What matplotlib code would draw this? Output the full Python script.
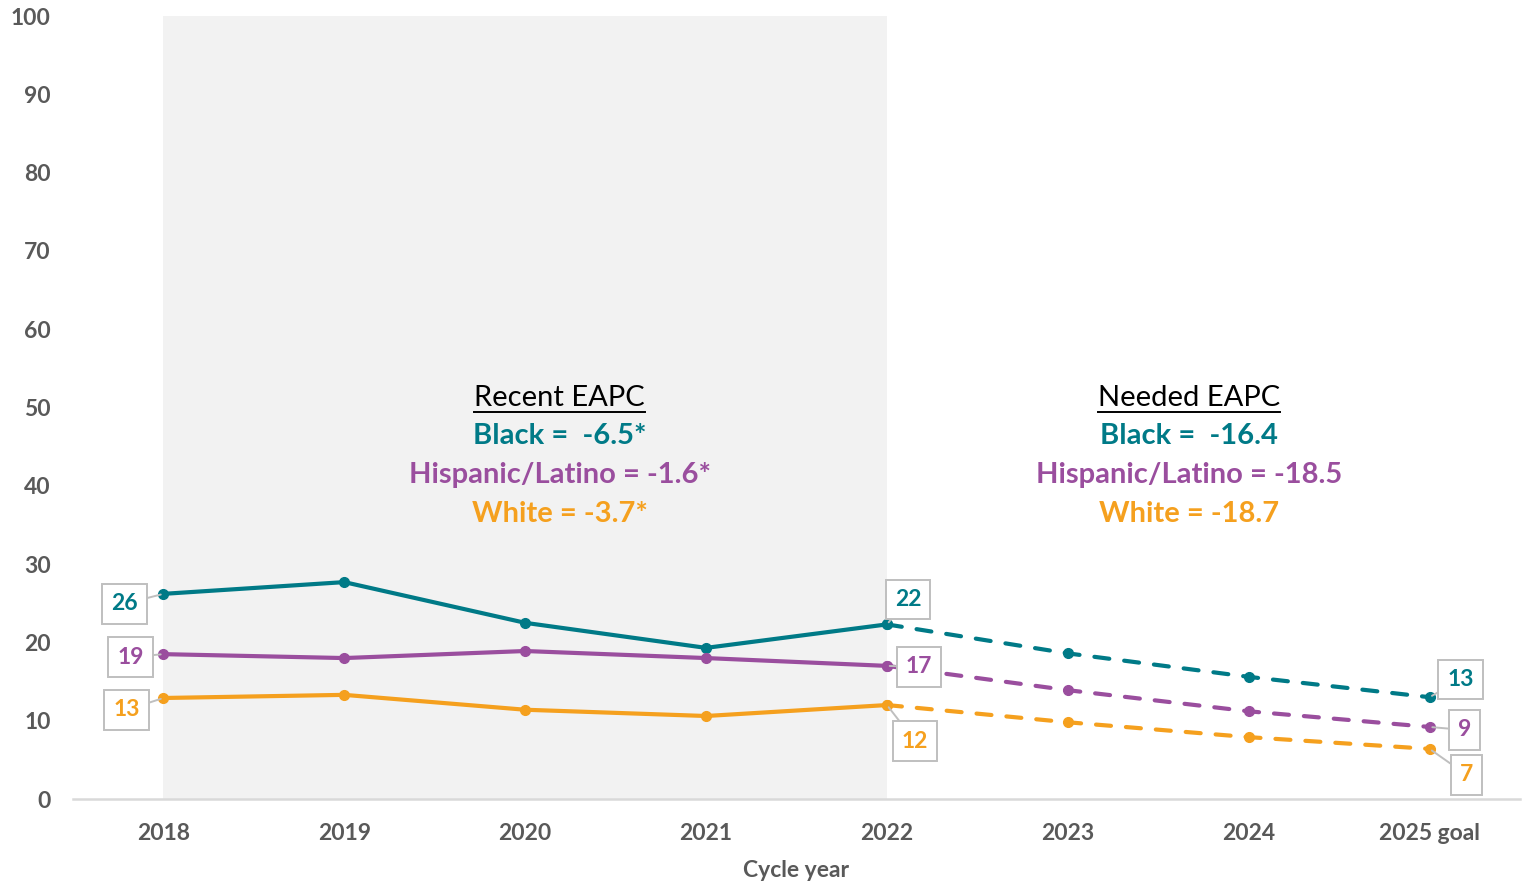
import matplotlib
matplotlib.use("Agg")
import matplotlib.pyplot as plt
from matplotlib.lines import Line2D

plt.rcParams['font.family'] = ['Lato', 'DejaVu Sans']

years = ["2018", "2019", "2020", "2021", "2022", "2023", "2024", "2025 goal"]
black = [26.2, 27.7, 22.5, 19.3, 22.3, 18.6, 15.6, 13.0]
hispanic = [18.5, 18.0, 18.9, 18.0, 17.0, 13.9, 11.2, 9.2]
white = [12.9, 13.3, 11.4, 10.6, 12.0, 9.8, 7.9, 6.4]

black_labels = {0: "26", 4: "22", 7: "13"}
hispanic_labels = {0: "19", 4: "17", 7: "9"}
white_labels = {0: "13", 4: "12", 7: "7"}

recent_lines = ["Black =  -6.5*", "Hispanic/Latino = -1.6*", "White = -3.7*"]
needed_lines = ["Black =  -16.4", "Hispanic/Latino = -18.5", "White = -18.7"]

TEAL = "#007A87"
PURPLE = "#9A4E9E"
ORANGE = "#F5A01E"
GRAY = "#595959"

fig = plt.figure(figsize=(15.23, 8.86), dpi=100)
ax = fig.add_axes([73/1523, 1-799/886, (1520-73)/1523, (799-16)/886])

x = list(range(len(years)))
split = 4

ax.fill_between([0, split], 0, 100.4, color="#F2F2F2", zorder=0, linewidth=0)

series = [(black, TEAL, black_labels, {0: (-39, -10), 4: (21, 25), 7: (31, 18)}),
          (hispanic, PURPLE, hispanic_labels, {0: (-33, -3), 4: (32, -1), 7: (35, -3)}),
          (white, ORANGE, white_labels, {0: (-37, -12), 4: (28, -36), 7: (37, -26)})]

for vals, col, labs, offs in series:
    ax.plot(x[:split+1], vals[:split+1], color=col, lw=3, marker="o", ms=7,
            solid_capstyle="round", zorder=3)
    ax.plot(x[split:], vals[split:], color=col, lw=3, marker="o", ms=7,
            linestyle=(0, (3.6, 3.6)), dash_capstyle="round", zorder=3)
    for i, t in labs.items():
        ax.annotate(t, xy=(x[i], vals[i]), xytext=offs[i], textcoords="offset pixels",
                    ha="center", va="center", fontsize=16.5, fontweight="bold", color=col,
                    bbox=dict(boxstyle="square,pad=0.4", fc="white", ec="#BFBFBF", lw=1.4),
                    arrowprops=dict(arrowstyle="-", color="#BFBFBF", lw=1.4,
                                    shrinkA=0, shrinkB=2),
                    zorder=5)

ax.set_xlim(-0.5, 7.5)
ax.set_ylim(0, 100)
ax.set_xticks(x)
ax.set_xticklabels(years)
ax.set_yticks(range(0, 101, 10))
for s in ["top", "right", "left"]:
    ax.spines[s].set_visible(False)
ax.spines["bottom"].set_color("#D9D9D9")
ax.spines["bottom"].set_linewidth(1.8)
ax.tick_params(axis="both", length=0, labelsize=16.5, labelcolor=GRAY)
ax.tick_params(axis="y", pad=16)
ax.tick_params(axis="x", pad=17)
for lab in ax.get_xticklabels() + ax.get_yticklabels():
    lab.set_fontweight("bold")
ax.set_xlabel("Cycle year", fontsize=16.5, fontweight="bold", color=GRAY, labelpad=12)

titles = []
for cx, head, lines in [(2.19, "Recent EAPC", recent_lines), (5.67, "Needed EAPC", needed_lines)]:
    t = ax.text(cx, 51.2, head, ha="center", va="center", fontsize=21, color="black")
    titles.append(t)
    for yy, txt, col in zip([46.3, 41.4, 36.4], lines, [TEAL, PURPLE, ORANGE]):
        ax.text(cx, yy, txt, ha="center", va="center", fontsize=21, fontweight="bold", color=col)

fig.canvas.draw()
r = fig.canvas.get_renderer()
for t in titles:
    bb = t.get_window_extent(r)
    yline = bb.y0 - 1
    fig.add_artist(Line2D([bb.x0/fig.bbox.width, bb.x1/fig.bbox.width],
                          [yline/fig.bbox.height]*2, color="black", lw=1.4,
                          transform=fig.transFigure))

fig.savefig("out.png", dpi=100)
